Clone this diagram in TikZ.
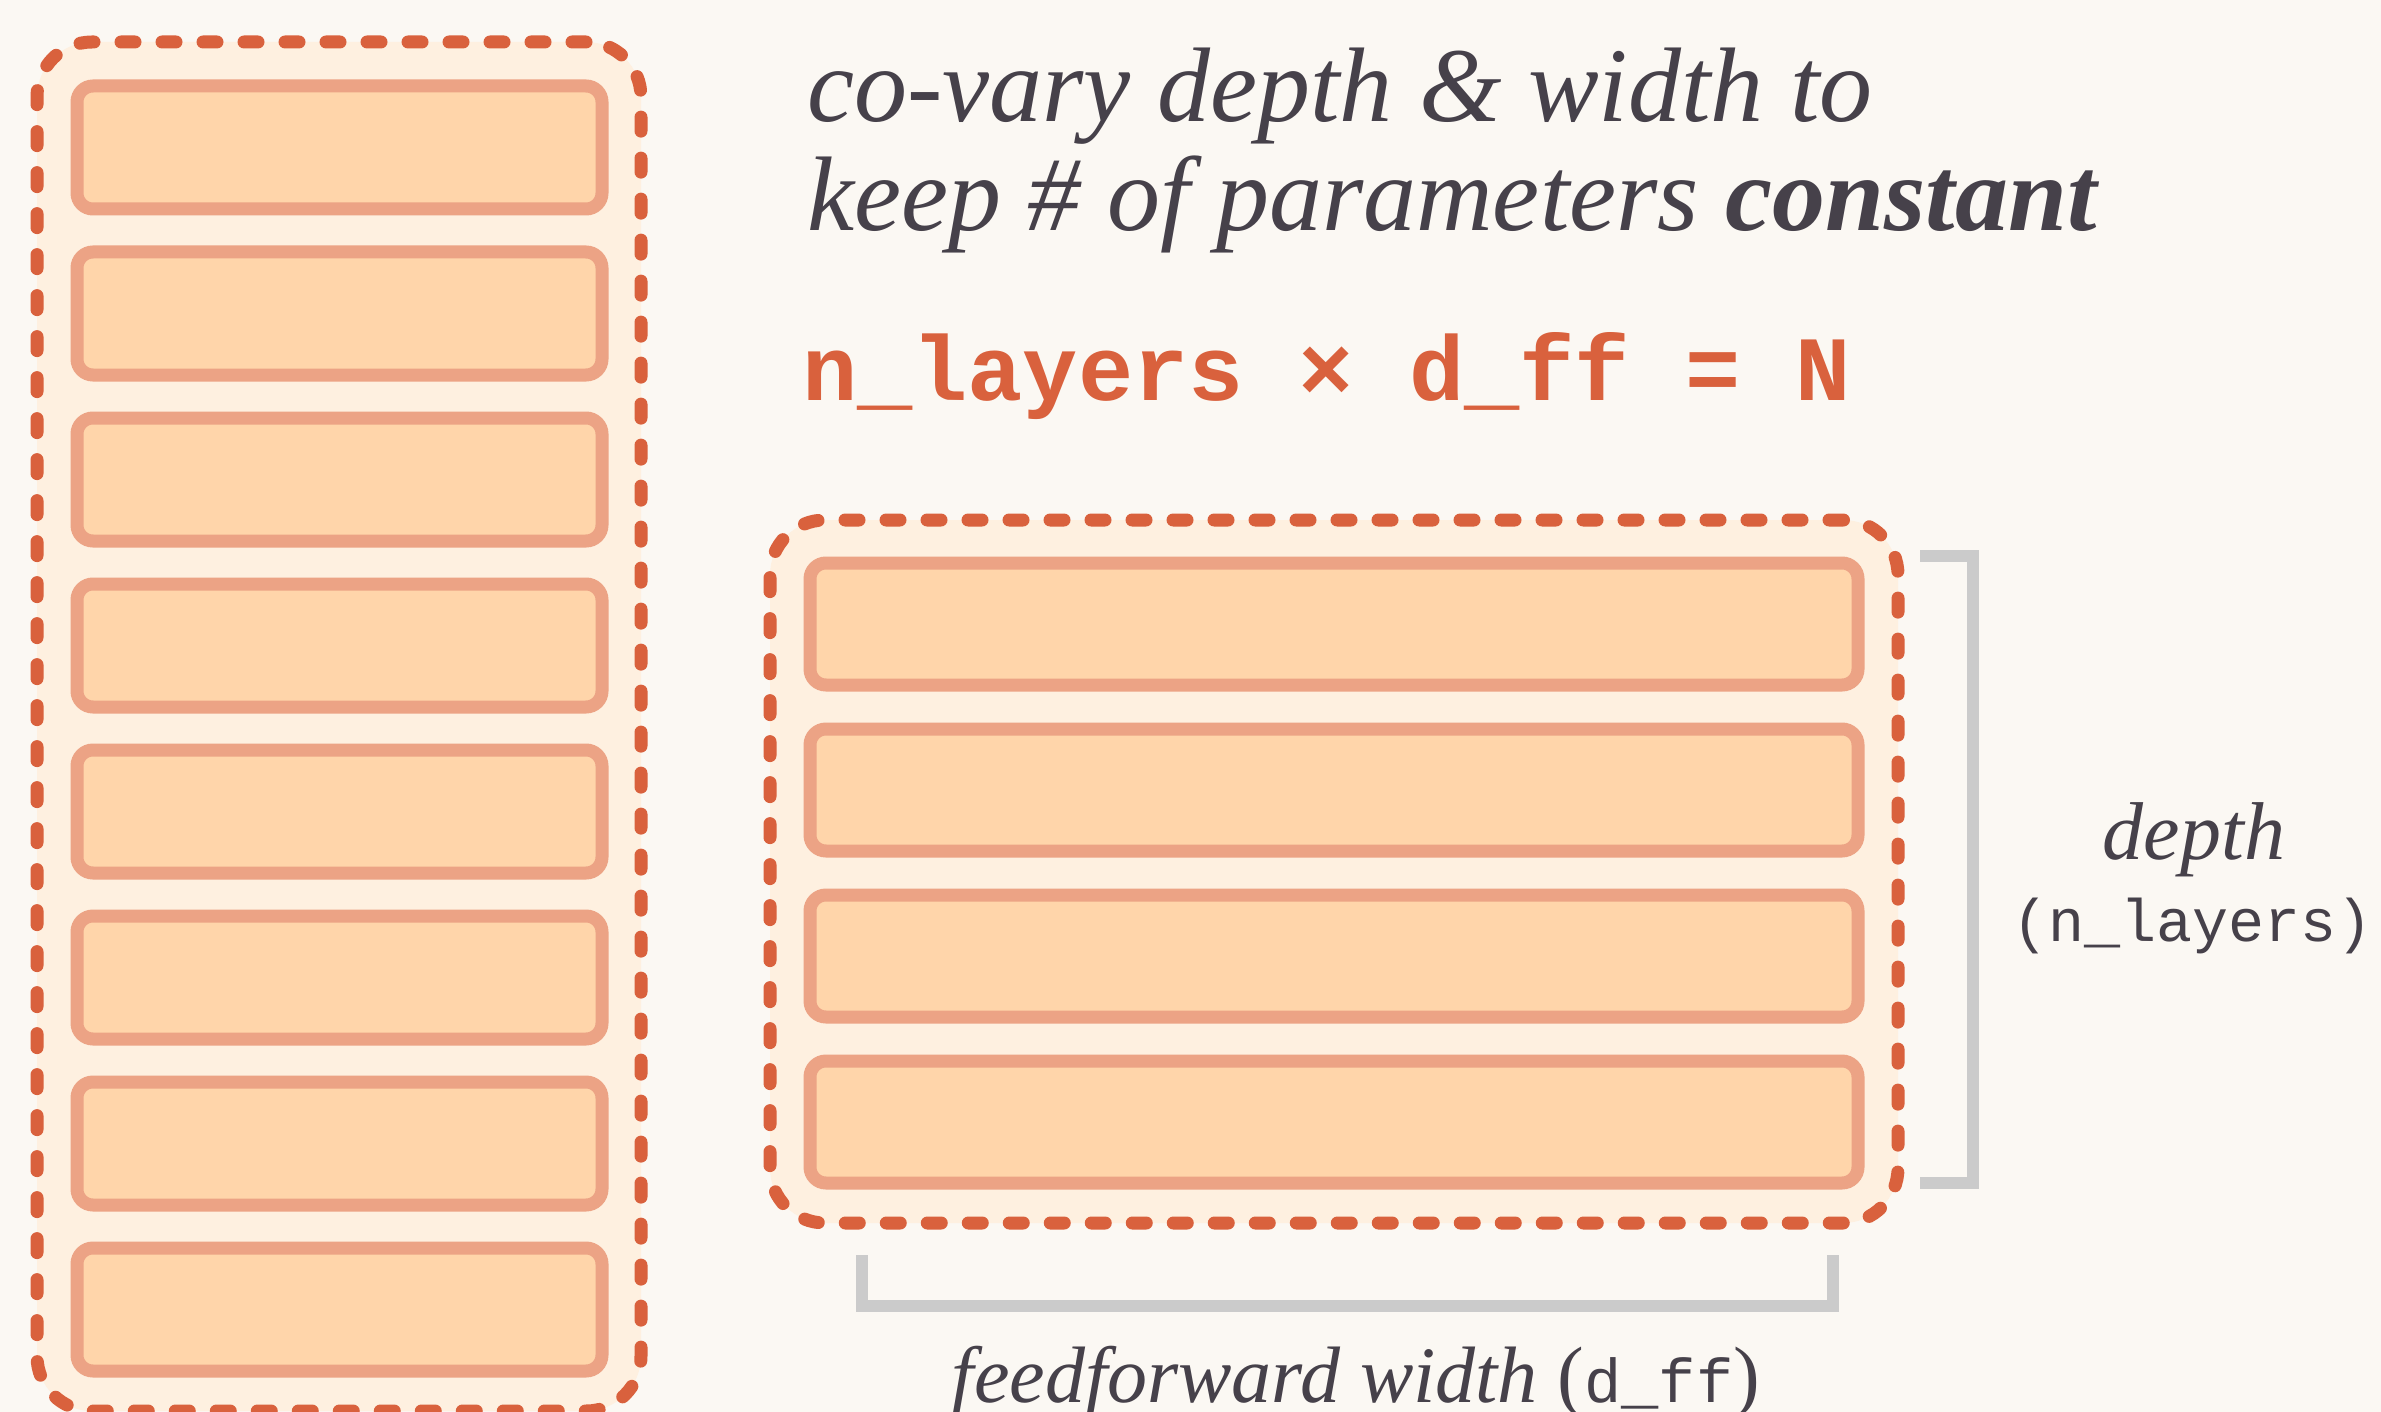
\documentclass[tikz,border=0pt]{standalone}
\usepackage{fontspec}
\setmainfont{Liberation Serif}
\newfontfamily\codefont{Liberation Mono}
\definecolor{bgcol}{HTML}{FBF8F3}
\definecolor{groupfill}{HTML}{FEF0E0}
\definecolor{dashcol}{HTML}{D9613D}
\definecolor{barfill}{HTML}{FFD5AA}
\definecolor{barline}{HTML}{ECA385}
\definecolor{bracketcol}{HTML}{CBCBCB}
\definecolor{inkcol}{HTML}{46414A}
\begin{document}
\begin{tikzpicture}[x=1pt,y=-1pt,
  groupbox/.style={rectangle, draw=dashcol, fill=groupfill, line width=13pt,
    dash pattern=on 14pt off 27pt, line cap=round, rounded corners=55pt,
    inner sep=0pt, outer sep=0pt},
  layerbar/.style={rectangle, draw=barline, fill=barfill, line width=13pt,
    rounded corners=16pt, inner sep=0pt, outer sep=0pt},
  bracketline/.style={draw=bracketcol, line width=12pt, line join=miter, line cap=butt},
  txt/.style={inner sep=0pt, outer sep=0pt, text=inkcol}]
\fill[bgcol] (0,0) rectangle (2381,1412);
\useasboundingbox (0,0) rectangle (2381,1412);

% left (deep, narrow) model
\node[groupbox, minimum width=604pt, minimum height=1369pt] (leftgroup) at (339,726.5) {};
\foreach \i in {0,...,7}
  \node[layerbar, minimum width=525pt, minimum height=123pt] (L\i) at (339.5,{147.5+166*\i}) {};

% right (shallow, wide) model
\node[groupbox, minimum width=1128pt, minimum height=703pt] (rightgroup) at (1334,871.5) {};
\foreach \i in {0,...,3}
  \node[layerbar, minimum width=1048pt, minimum height=122pt] (R\i) at (1334,{624+166*\i}) {};

% depth bracket
\coordinate (d1) at ([shift={(62,-7)}]R0.north east);
\coordinate (d2) at ([shift={(115,-7)}]R0.north east);
\coordinate (d3) at ([shift={(115,0)}]R3.south east);
\coordinate (d4) at ([shift={(62,0)}]R3.south east);
\draw[bracketline] (d1) -- (d2) -- (d3) -- (d4);

% width bracket
\coordinate (w1) at ([shift={(52,72)}]R3.south west);
\coordinate (w2) at ([shift={(52,123)}]R3.south west);
\coordinate (w3) at ([shift={(-25,123)}]R3.south east);
\coordinate (w4) at ([shift={(-25,72)}]R3.south east);
\draw[bracketline] (w1) -- (w2) -- (w3) -- (w4);

% texts
\node[txt, anchor=base west, font=\fontsize{106}{109}\selectfont\itshape] (title1) at (807,122) {co-vary depth \& width to};
\node[txt, anchor=base west, font=\fontsize{106}{109}\selectfont\itshape] (title2) at (807,231) {keep \# of parameters \textbf{constant}};
\node[txt, anchor=base west, text=dashcol, font=\codefont\bfseries\fontsize{92}{92}\selectfont] (formula) at (802,400) {n\_layers × d\_ff = N};
\node[txt, anchor=base, font=\fontsize{82}{82}\selectfont\itshape] (depthlbl) at (2194,859) {depth};
\node[txt, anchor=base, font=\codefont\fontsize{60}{60}\selectfont] (nlayerslbl) at (2192,941) {(n\_layers)};
\node[txt, anchor=base, font=\fontsize{80}{80}\selectfont] (widthlbl) at (1356,1402) {\textit{feedforward width} ({\codefont\fontsize{62}{62}\selectfont d\_ff})};
\end{tikzpicture}
\end{document}
